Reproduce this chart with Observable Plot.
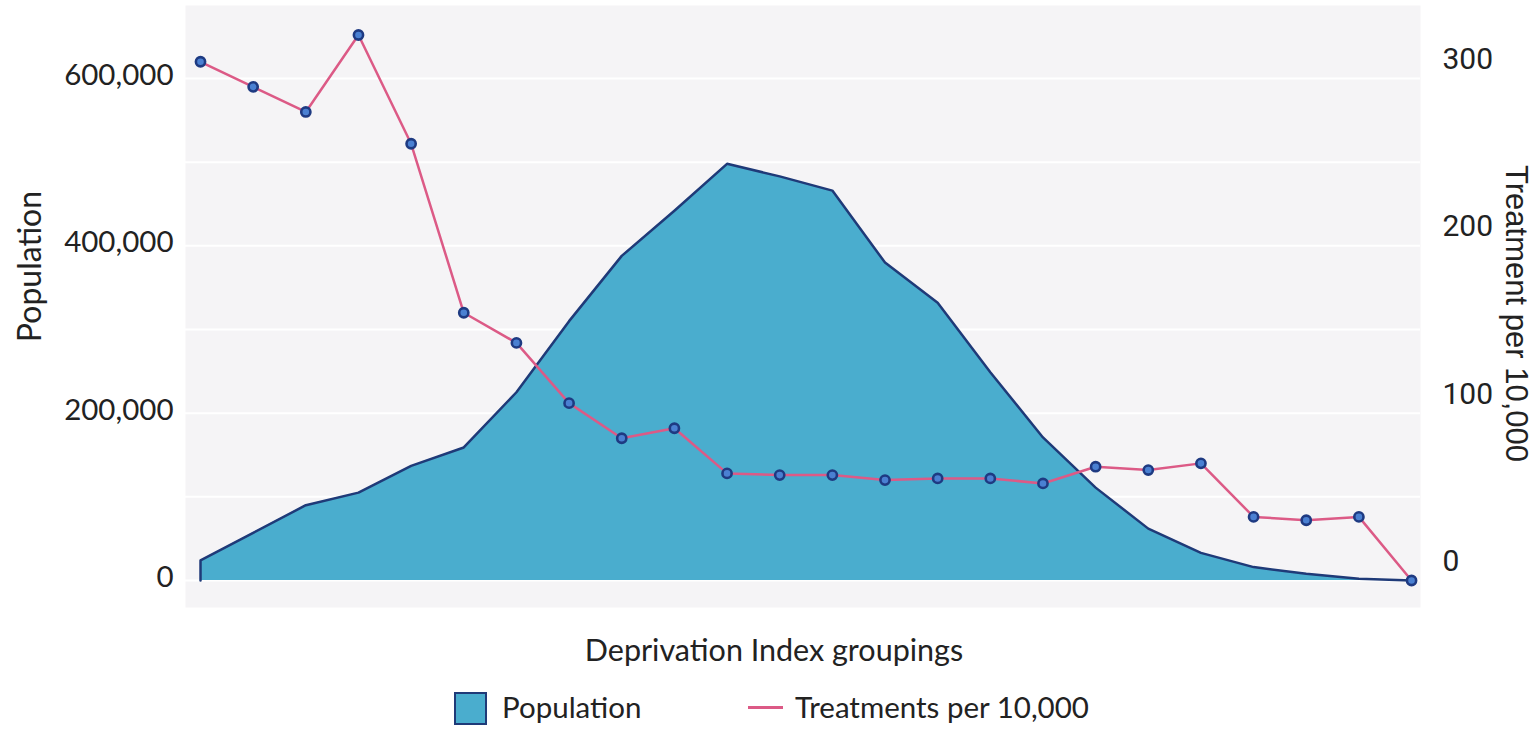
<!DOCTYPE html>
<html>
<head>
<meta charset="utf-8">
<script src="https://cdn.jsdelivr.net/npm/d3@7"></script>
<script src="https://cdn.jsdelivr.net/npm/@observablehq/plot@0.6"></script>
<style>
  html, body { margin: 0; padding: 0; background: #ffffff; }
  #wrap { position: relative; width: 1538px; height: 730px; font-family: Lato, "Open Sans", sans-serif; color: #222; }
  #chart { position: absolute; left: 0; top: 0; }
  #xlabel { position: absolute; left: 0; width: 1548px; top: 631px; text-align: center; font-size: 30.5px; color: #222; }
  .leg { position: absolute; top: 689px; font-size: 29.5px; color: #222; line-height: 36px; white-space: nowrap; }
  #swatch { position: absolute; left: 454px; top: 692px; width: 29px; height: 29px; background: #4aadce; border: 2.5px solid #1f3a78; box-sizing: content-box; }
  #dash { position: absolute; left: 748px; top: 706px; width: 35px; height: 3px; background: #dc5a86; }
</style>
</head>
<body>
<div id="wrap">
  <div id="chart"></div>
  <div id="xlabel">Deprivation Index groupings</div>
  <div id="swatch"></div>
  <div class="leg" style="left:502px">Population</div>
  <div id="dash"></div>
  <div class="leg" style="left:795px">Treatments per 10,000</div>
</div>
<script>
// Deprivation index groupings (24 groups, no tick labels shown)
const groups = [1, 2, 3, 4, 5, 6, 7, 8, 9, 10, 11, 12, 13, 14, 15, 16, 17, 18, 19, 20, 21, 22, 23, 24];
// Population per grouping (left axis)
const population = [24000, 57000, 90000, 105000, 137000, 159000, 225000, 310000, 388000, 442000, 498000, 483000,
                    466000, 380000, 332000, 249000, 171000, 111000, 62000, 33000, 16000, 8000, 2000, 0];
// Treatments per 10,000 (right axis)
const treatments = [310, 295, 280, 326, 261, 160, 142, 106, 85, 91, 64, 63,
                    63, 60, 61, 61, 58, 68, 66, 70, 38, 36, 38, 0];
// Axis ticks
const leftTicks = [0, 200000, 400000, 600000];
const rightTicks = [0, 100, 200, 300];
const gridValues = [0, 100000, 200000, 300000, 400000, 500000, 600000];
const ratio = 600000 / 300; // right axis 300 aligns with left 600,000

const popData = groups.map((g, i) => ({g, v: population[i]}));
const outline = [{g: groups[0], v: 0}, ...popData];
const trData = groups.map((g, i) => ({g, t: treatments[i]}));

const chart = Plot.plot({
  width: 1538,
  height: 610,
  marginLeft: 185,
  marginRight: 118,
  marginTop: 5,
  marginBottom: 3,
  x: {domain: [0.715, 24.17], axis: null},
  y: {domain: [-32270, 687250], axis: null},
  style: {fontFamily: "Lato, sans-serif", fontSize: "29.5px", color: "#222", background: "transparent"},
  marks: [
    Plot.frame({fill: "#f5f4f6", stroke: null}),
    Plot.ruleY(gridValues, {stroke: "#ffffff", strokeWidth: 2}),
    Plot.areaY(popData, {x: "g", y: "v", fill: "#4aadce"}),
    Plot.lineY(outline, {x: "g", y: "v", stroke: "#1f3a78", strokeWidth: 2.5}),
    Plot.lineY(trData, {x: "g", y: d => d.t * ratio, stroke: "#dc5a86", strokeWidth: 2.5}),
    Plot.dot(trData, {x: "g", y: d => d.t * ratio, r: 4.6, fill: "#4a80d2", stroke: "#1e3a82", strokeWidth: 2.6}),
    Plot.axisY(leftTicks, {anchor: "left", tickSize: 0, tickPadding: 12, dy: -3,
      tickFormat: d3.format(","), label: null, fontSize: 29.5}),
    Plot.axisY(rightTicks.map(d => d * ratio), {anchor: "right", tickSize: 0, tickPadding: 22, dy: -19,
      textAnchor: "start", tickFormat: d => d3.format(",")(d / ratio), label: null,
      fontFamily: "Roboto, sans-serif", fontSize: 30}),
    Plot.text(["Population"], {frameAnchor: "left", dx: -155, dy: -40, rotate: -90, fontSize: 32,
      textAnchor: "middle"}),
    Plot.text(["Treatment per 10,000"], {frameAnchor: "right", dx: 95, dy: 7, rotate: 90, fontSize: 31,
      textAnchor: "middle", fontFamily: "'Liberation Sans', Arial, sans-serif"})
  ]
});
document.getElementById("chart").appendChild(chart);
</script>
</body>
</html>
